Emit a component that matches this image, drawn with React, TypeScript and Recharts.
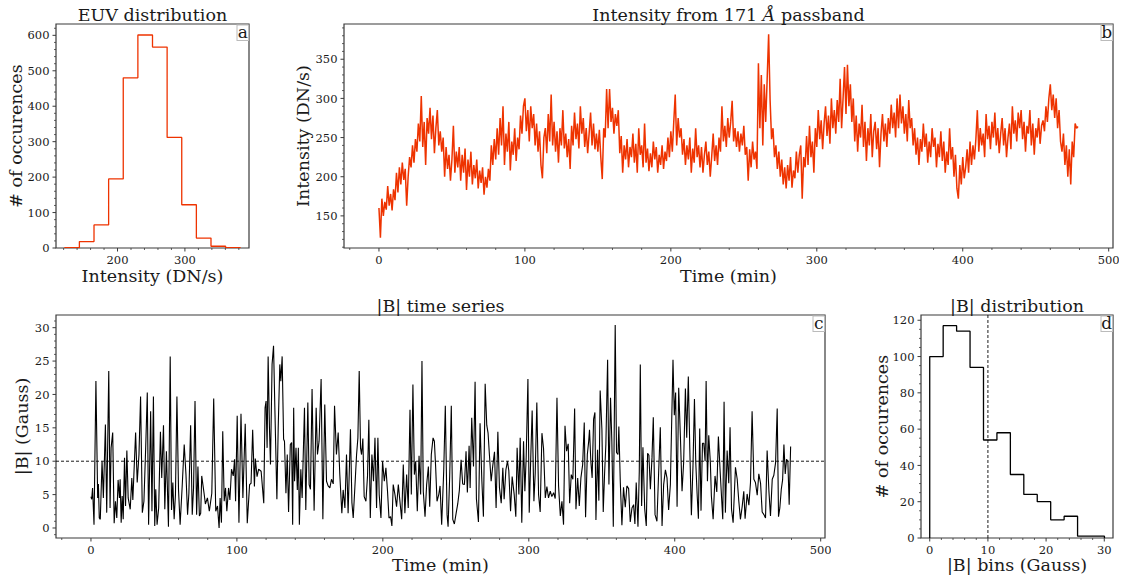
import React from 'react'
import { LineChart, Line, XAxis, YAxis, ReferenceArea, ReferenceLine } from 'recharts'

const FONT = '"DejaVu Serif", "Liberation Serif", serif'
const RED = '#ee3300'
const SPINE = '#3a3a3a'
const INK = '#1a1a1a'

// --- panel a: EUV histogram (bin edges + counts)
const euvEdges = [121.7, 143.4, 165.1, 186.8, 208.5, 230.2, 251.9, 273.6, 295.3, 317.0, 338.7, 360.4, 382.1]
const euvCounts = [1, 18, 65, 195, 480, 601, 567, 312, 122, 28, 5, 1]

// --- panel b: 171 A intensity, one value per minute (t = 0..479)
const euvIntensity = [
  160, 122, 172, 150, 168, 158, 188, 163, 178, 157, 184, 170, 205, 180, 212, 190, 218, 196, 210, 163,
  200, 225, 212, 240, 218, 248, 232, 268, 245, 303, 238, 270, 215, 275, 255, 288, 248, 278, 230, 262,
  285, 240, 258, 232, 250, 200, 238, 210, 228, 195, 222, 265, 205, 232, 212, 238, 195, 228, 205, 236,
  183, 222, 200, 232, 190, 215, 198, 222, 185, 208, 192, 212, 177, 200, 186, 210, 195, 240, 215, 248,
  222, 262, 228, 275, 240, 290, 215, 255, 232, 270, 208, 245, 228, 262, 220, 250, 235, 278, 255, 290,
  300, 258, 285, 245, 290, 262, 280, 240, 268, 232, 258, 215, 198, 250, 262, 230, 280, 245, 305, 240,
  270, 232, 258, 218, 262, 240, 285, 236, 255, 225, 248, 210, 265, 240, 282, 248, 268, 236, 290, 255,
  275, 238, 262, 230, 255, 282, 240, 268, 235, 255, 232, 260, 225, 197, 262, 250, 312, 262, 312, 270,
  288, 255, 280, 265, 285, 230, 252, 205, 240, 222, 248, 212, 238, 225, 255, 218, 242, 205, 262, 228,
  240, 212, 268, 218, 236, 207, 230, 212, 245, 222, 238, 205, 228, 215, 240, 210, 232, 220, 250, 225,
  258, 232, 270, 305, 240, 275, 250, 262, 228, 248, 215, 240, 222, 250, 205, 236, 218, 262, 225, 240,
  212, 238, 205, 228, 245, 215, 232, 200, 226, 255, 220, 240, 215, 250, 232, 290, 245, 265, 238, 275,
  250, 270, 297, 245, 262, 238, 258, 232, 255, 240, 265, 228, 238, 195, 235, 212, 245, 222, 232, 210,
  345, 262, 330, 240, 318, 270, 325, 382, 298, 248, 262, 225, 240, 210, 232, 200, 222, 190, 212, 185,
  215, 195, 225, 186, 208, 198, 232, 205, 228, 240, 172, 225, 212, 252, 215, 265, 225, 245, 205, 262,
  238, 285, 248, 272, 235, 268, 290, 252, 278, 242, 300, 262, 285, 255, 298, 270, 325, 262, 300, 340,
  280, 343, 290, 318, 270, 300, 245, 278, 232, 268, 250, 292, 238, 270, 220, 262, 240, 280, 225, 258,
  270, 235, 262, 212, 255, 280, 245, 268, 238, 275, 255, 292, 262, 282, 250, 300, 262, 305, 268, 290,
  255, 280, 245, 298, 262, 275, 240, 262, 228, 250, 215, 248, 232, 268, 238, 255, 218, 245, 225, 262,
  238, 250, 212, 242, 225, 258, 220, 245, 205, 232, 215, 262, 222, 238, 200, 228, 185, 172, 215, 190,
  225, 198, 212, 235, 205, 245, 215, 240, 222, 248, 285, 232, 262, 240, 255, 225, 280, 248, 265, 235,
  270, 250, 282, 240, 262, 230, 255, 275, 240, 262, 225, 250, 268, 235, 290, 255, 272, 245, 282, 262,
  285, 248, 270, 232, 265, 255, 285, 240, 268, 228, 262, 250, 275, 242, 265, 272, 258, 290, 270, 300,
  318, 285, 305, 275, 300, 262, 285, 245, 232, 255, 215, 240, 200, 235, 190, 245, 225, 268, 262, 264,
]

// --- panel c: |B| time series (time in min, field in Gauss)
const bTimes = [
  0.0, 0.5, 1.1, 2.1, 3.4, 4.6, 5.1, 5.7, 6.4, 7.6, 8.5, 9.9, 10.8, 12.2, 13.1, 13.8, 14.9, 15.9, 16.8, 17.7,
  18.6, 19.5, 20.0, 20.7, 21.4, 22.1, 23.0, 23.7, 24.6, 25.5, 26.9, 28.0, 28.7, 30.6, 31.7, 32.9, 34.0, 35.2, 36.3, 37.5,
  38.6, 39.5, 40.9, 41.8, 42.8, 43.7, 44.4, 45.3, 46.4, 47.6, 48.5, 49.7, 50.6, 51.7, 53.1, 54.3, 55.2, 56.1, 57.0, 57.9,
  58.9, 60.0, 61.1, 62.5, 63.9, 65.1, 66.2, 67.1, 68.3, 69.4, 70.3, 71.3, 72.4, 73.3, 74.3, 75.2, 75.9, 77.5, 78.4, 79.8,
  81.1, 82.8, 84.1, 85.5, 86.7, 87.8, 88.5, 89.4, 90.3, 91.3, 92.2, 93.1, 94.3, 95.2, 96.3, 97.5, 98.4, 99.1, 100.2, 101.4,
  102.8, 104.1, 105.7, 107.1, 108.7, 109.7, 110.8, 112.0, 112.6, 113.8, 114.9, 116.6, 118.4, 119.3, 120.0, 120.7, 121.4, 122.3, 123.0, 124.1,
  125.1, 126.0, 127.4, 128.3, 129.4, 130.1, 131.0, 132.0, 132.6, 133.6, 134.5, 135.4, 136.6, 137.5, 138.2, 138.9, 139.5, 140.5, 141.4, 142.1,
  142.8, 143.8, 144.7, 146.3, 147.2, 148.6, 149.5, 150.4, 151.5, 152.9, 154.3, 155.2, 156.3, 157.7, 158.9, 160.2, 161.4, 162.5, 163.7, 164.8,
  166.0, 166.9, 168.2, 169.4, 170.5, 171.9, 172.8, 174.0, 175.1, 176.2, 177.2, 177.8, 178.8, 179.7, 180.8, 182.0, 182.9, 183.8, 184.7, 185.4,
  186.3, 187.2, 188.4, 189.5, 190.4, 191.4, 192.5, 193.6, 194.6, 195.7, 196.6, 197.5, 198.7, 199.8, 201.0, 202.1, 203.2, 204.2, 205.3, 206.2,
  207.1, 208.3, 209.4, 210.6, 211.7, 212.9, 214.0, 215.1, 216.3, 217.4, 218.6, 219.5, 220.6, 221.6, 222.5, 223.6, 224.8, 225.9, 226.8, 227.7,
  228.9, 230.0, 231.2, 232.1, 233.2, 234.4, 235.3, 236.2, 237.1, 238.3, 239.2, 240.3, 241.7, 242.8, 244.0, 244.7, 245.8, 246.9, 247.9, 249.0,
  250.2, 251.3, 252.4, 253.6, 254.7, 255.9, 257.0, 257.9, 259.1, 259.8, 260.9, 262.1, 263.2, 264.1, 265.5, 266.6, 267.8, 268.9, 270.1, 271.2,
  272.1, 273.0, 274.2, 275.3, 276.5, 277.6, 278.8, 279.9, 281.1, 282.2, 283.1, 284.3, 285.4, 286.3, 287.5, 288.6, 290.0, 291.1, 292.0, 293.2,
  294.1, 295.2, 296.4, 297.3, 298.2, 299.4, 300.3, 301.4, 302.3, 303.5, 304.4, 305.5, 306.7, 307.8, 309.0, 310.1, 311.3, 312.4, 313.5, 314.7,
  315.8, 317.0, 318.1, 319.3, 320.4, 321.6, 322.7, 323.8, 324.8, 325.9, 327.0, 328.0, 329.1, 330.2, 331.4, 332.3, 333.5, 334.6, 335.7, 336.9,
  338.0, 338.9, 340.1, 341.0, 341.6, 342.5, 343.4, 344.4, 345.3, 346.0, 347.1, 348.0, 348.9, 350.1, 351.0, 351.9, 352.8, 354.0, 354.9, 356.0,
  356.9, 357.9, 359.2, 360.1, 361.1, 361.7, 362.7, 363.8, 364.9, 366.1, 367.2, 368.4, 369.5, 370.7, 371.8, 372.7, 373.6, 374.8, 375.7, 376.4,
  377.3, 378.2, 379.4, 380.5, 381.4, 382.3, 383.3, 384.4, 385.3, 386.5, 387.8, 389.0, 390.1, 391.3, 392.4, 393.6, 394.7, 395.8, 397.0, 398.8,
  399.7, 400.6, 401.6, 402.7, 403.9, 405.0, 406.1, 407.3, 408.2, 409.3, 410.3, 411.4, 412.5, 413.5, 414.4, 415.3, 416.2, 417.1, 418.0, 419.0,
  419.9, 420.8, 421.5, 422.4, 423.3, 424.4, 425.1, 426.3, 427.6, 428.8, 429.9, 431.1, 431.8, 432.9, 433.8, 434.7, 435.9, 437.0, 437.9, 438.9,
  440.0, 441.6, 442.8, 443.9, 445.0, 446.2, 447.3, 448.2, 449.6, 450.8, 451.9, 453.0, 454.2, 455.3, 456.5, 457.6, 458.8, 459.9, 461.1, 462.2,
  463.3, 464.5, 465.6, 466.8, 467.9, 469.1, 470.2, 471.1, 472.0, 473.0, 473.9, 474.8, 475.7, 476.6, 477.5, 478.4, 479.4,
]
const bValues = [
  4.7, 4.3, 6.0, 0.5, 22.0, 4.5, 6.6, 1.5, 1.3, 10.0, 4.5, 15.5, 2.3, 23.5, 3.0, 12.0, 14.3, 0.7, 4.0, 1.5,
  7.2, 4.5, 7.3, 0.8, 4.8, 1.3, 10.5, 3.3, 11.6, 4.5, 2.8, 7.5, 4.2, 14.3, 6.8, 11.0, 19.7, 2.3, 4.0, 12.0,
  20.3, 0.5, 17.5, 2.5, 19.7, 0.3, 5.8, 0.5, 3.0, 14.4, 7.5, 15.4, 2.8, 11.5, 0.2, 25.7, 2.7, 6.8, 1.3, 5.0,
  19.7, 5.7, 0.5, 6.2, 12.5, 8.0, 2.0, 5.2, 15.4, 2.0, 6.0, 19.0, 2.0, 9.2, 1.8, 2.2, 7.8, 5.2, 3.6, 4.5,
  2.5, 5.2, 19.4, 2.5, 3.3, 0.0, 4.5, 0.8, 14.5, 4.0, 6.0, 2.5, 6.0, 4.2, 8.8, 7.8, 10.3, 4.0, 16.8, 0.8,
  17.1, 4.5, 15.6, 0.7, 6.5, 6.7, 14.7, 6.2, 10.4, 7.7, 8.8, 8.5, 3.7, 18.0, 19.0, 12.0, 25.7, 15.0, 9.5, 24.5,
  27.3, 18.0, 4.3, 15.0, 24.5, 22.0, 25.7, 13.3, 13.0, 5.2, 11.0, 2.4, 12.5, 12.8, 0.5, 18.0, 7.0, 12.0, 5.7, 12.0,
  0.5, 8.8, 4.5, 18.0, 2.7, 18.8, 6.5, 5.8, 20.8, 2.6, 18.0, 11.0, 13.0, 22.3, 1.3, 18.5, 7.0, 6.3, 6.0, 7.3,
  6.6, 18.3, 11.0, 14.3, 8.0, 2.2, 5.7, 3.0, 11.0, 2.2, 10.0, 14.8, 3.8, 1.5, 6.0, 11.0, 13.5, 23.5, 12.0, 11.0,
  13.4, 4.7, 4.0, 7.8, 16.2, 1.5, 11.0, 7.0, 13.5, 3.0, 13.5, 5.0, 1.5, 10.0, 7.0, 9.0, 5.5, 1.5, 1.7, 0.3,
  6.5, 5.0, 3.2, 6.5, 4.0, 1.3, 9.5, 2.2, 8.0, 3.0, 17.7, 5.0, 21.5, 8.0, 10.0, 2.5, 10.8, 5.0, 25.0, 5.5,
  1.7, 6.5, 9.2, 3.2, 11.0, 13.5, 13.0, 9.0, 4.0, 5.0, 6.3, 0.5, 8.5, 18.3, 2.0, 0.2, 7.8, 18.3, 1.3, 0.6,
  2.2, 3.6, 5.6, 10.2, 6.6, 6.5, 11.5, 5.3, 12.3, 6.0, 16.5, 9.2, 21.9, 4.4, 0.9, 15.7, 7.3, 1.7, 21.6, 15.4,
  14.2, 11.0, 7.0, 9.3, 11.4, 3.0, 14.4, 6.0, 3.7, 9.0, 4.3, 8.7, 10.0, 8.6, 2.5, 7.7, 5.0, 1.7, 12.0, 5.0,
  13.5, 0.8, 13.0, 5.5, 10.5, 22.3, 2.3, 11.0, 17.6, 4.0, 8.2, 18.8, 5.0, 2.4, 14.2, 11.9, 4.5, 6.2, 4.5, 5.5,
  4.7, 5.3, 4.4, 19.5, 6.3, 1.8, 4.0, 0.5, 15.3, 11.5, 12.6, 3.7, 8.0, 7.3, 17.9, 2.8, 7.5, 3.3, 7.5, 9.5,
  15.8, 1.6, 11.0, 12.9, 14.7, 10.0, 7.5, 16.3, 17.3, 1.2, 11.7, 4.1, 20.6, 14.7, 2.4, 8.0, 12.5, 25.2, 6.5, 19.5,
  13.0, 0.2, 30.4, 11.3, 11.0, 15.2, 6.8, 0.4, 6.1, 3.1, 6.3, 5.9, 0.9, 3.0, 3.5, 0.6, 6.8, 0.2, 8.5, 24.5,
  3.3, 12.1, 2.9, 0.3, 11.2, 10.9, 5.8, 10.5, 16.6, 2.0, 1.0, 8.5, 15.1, 0.3, 6.5, 8.7, 7.5, 2.7, 6.5, 25.2,
  16.9, 20.3, 3.2, 21.0, 13.5, 5.5, 9.8, 20.9, 13.5, 22.7, 12.0, 1.9, 9.3, 19.3, 9.8, 5.2, 1.4, 14.9, 2.6, 12.7,
  12.7, 10.0, 22.0, 7.0, 13.9, 9.8, 4.8, 1.3, 7.8, 5.4, 13.7, 8.5, 5.7, 1.3, 18.9, 2.3, 11.6, 6.7, 15.1, 2.8,
  0.8, 9.1, 7.3, 4.0, 1.3, 3.2, 5.5, 1.4, 5.1, 3.4, 6.8, 17.5, 7.3, 6.8, 4.9, 8.1, 6.7, 2.4, 2.0, 1.5,
  11.6, 5.6, 1.8, 7.3, 7.9, 9.8, 17.9, 1.7, 3.0, 5.8, 7.2, 12.5, 8.1, 10.3, 10.0, 3.5, 12.2,
]

// --- panel d: |B| histogram
const bEdges = [0, 2.31, 4.62, 6.93, 9.24, 11.55, 13.86, 16.17, 18.48, 20.79, 23.1, 25.41, 27.72, 30.03]
const bCounts = [100, 117, 114, 94, 54, 58, 35, 24, 20, 10, 12, 1, 1]
const bThreshold = 10

// ticks
const range = (lo: number, hi: number, step: number) => {
  const out: number[] = []
  for (let v = lo; v <= hi + 1e-9; v += step) out.push(Math.round(v * 1000) / 1000)
  return out
}
const aXMajor = [200, 300]
const aYMajor = [0, 100, 200, 300, 400, 500, 600]
const timeMajor = [0, 100, 200, 300, 400, 500]
const bYMajor = [150, 200, 250, 300, 350]
const cYMajor = [0, 5, 10, 15, 20, 25, 30]
const dXMajor = [0, 10, 20, 30]
const dYMajor = [0, 20, 40, 60, 80, 100, 120]

const stepData = (edges: number[], counts: number[]) => [
  { x: edges[0], y: 0 },
  ...counts.map((c, i) => ({ x: edges[i], y: c })),
  { x: edges[edges.length - 1], y: 0 },
]

const PAD_L = 52
const PAD_B = 24
const PAD_T = 6
const PAD_R = 6

function XTick({ x, y, payload, majors }: any) {
  const major = majors.includes(payload.value)
  return (
    <g>
      <line x1={x} x2={x} y1={y} y2={y + (major ? 3.5 : 2)} stroke={SPINE} strokeWidth={major ? 1 : 0.8} />
      {major && (
        <text x={x} y={y + 16} textAnchor="middle" fontSize={11.5} fontFamily={FONT} fill={INK}>
          {payload.value}
        </text>
      )}
    </g>
  )
}

function YTick({ x, y, payload, majors }: any) {
  const major = majors.includes(payload.value)
  return (
    <g>
      <line x1={x - (major ? 3.5 : 2)} x2={x} y1={y} y2={y} stroke={SPINE} strokeWidth={major ? 1 : 0.8} />
      {major && (
        <text x={x - 6.5} y={y} dy="0.36em" textAnchor="end" fontSize={11.5} fontFamily={FONT} fill={INK}>
          {payload.value}
        </text>
      )}
    </g>
  )
}

interface PanelProps {
  left: number
  top: number
  width: number
  height: number
  xDomain: [number, number]
  yDomain: [number, number]
  xMajor: number[]
  xMinorStep: number
  yMajor: number[]
  yMinorStep: number
  data: { x: number; y: number }[]
  color: string
  stepped?: boolean
  lineWidth?: number
  extra?: React.ReactNode
}

function Panel(p: PanelProps) {
  const xs = range(Math.ceil(p.xDomain[0] / p.xMinorStep) * p.xMinorStep, p.xDomain[1], p.xMinorStep)
  const ys = range(Math.ceil(p.yDomain[0] / p.yMinorStep) * p.yMinorStep, p.yDomain[1], p.yMinorStep)
  return (
    <div style={{ position: 'absolute', left: p.left - PAD_L, top: p.top - PAD_T }}>
      <LineChart
        width={p.width + PAD_L + PAD_R}
        height={p.height + PAD_T + PAD_B}
        data={p.data}
        margin={{ top: PAD_T, right: PAD_R, bottom: 0, left: 0 }}
      >
        <XAxis
          type="number"
          dataKey="x"
          domain={p.xDomain}
          allowDataOverflow
          ticks={xs}
          interval={0}
          height={PAD_B}
          axisLine={false}
          tickLine={false}
          tickSize={0}
          tickMargin={0}
          tick={(props: any) => <XTick {...props} majors={p.xMajor} />}
        />
        <YAxis
          type="number"
          domain={p.yDomain}
          allowDataOverflow
          ticks={ys}
          interval={0}
          width={PAD_L}
          axisLine={false}
          tickLine={false}
          tickSize={0}
          tickMargin={0}
          tick={(props: any) => <YTick {...props} majors={p.yMajor} />}
        />
        {p.extra}
        <Line
          type={p.stepped ? 'stepAfter' : 'linear'}
          dataKey="y"
          stroke={p.color}
          strokeWidth={p.lineWidth ?? 1}
          strokeLinejoin="bevel"
          dot={false}
          isAnimationActive={false}
        />
        <ReferenceArea
          x1={p.xDomain[0]}
          x2={p.xDomain[1]}
          y1={p.yDomain[0]}
          y2={p.yDomain[1]}
          fill="none"
          fillOpacity={0}
          stroke={SPINE}
          strokeWidth={1.2}
          ifOverflow="visible"
        />
      </LineChart>
    </div>
  )
}

const A = { left: 56, top: 24, w: 193, h: 224 }
const B = { left: 344, top: 24, w: 769, h: 224 }
const C = { left: 56, top: 315, w: 769, h: 223 }
const D = { left: 921, top: 315, w: 192, h: 223 }

function Letter({ r, ch }: { r: { left: number; top: number; w: number }; ch: string }) {
  const x = r.left + r.w - 12
  return (
    <g>
      <rect x={x} y={r.top + 1} width={11.5} height={15.5} fill="#fff" stroke="#bbb" strokeWidth={1} />
      <text x={x + 5.75} y={r.top + 14} textAnchor="middle" fontSize={17} fontFamily={FONT} fill={INK}>
        {ch}
      </text>
    </g>
  )
}

function Label({ x, y, children, rotate }: { x: number; y: number; children: React.ReactNode; rotate?: boolean }) {
  return (
    <text
      x={x}
      y={y}
      textAnchor="middle"
      fontSize={17.5}
      fontFamily={FONT}
      fill={INK}
      transform={rotate ? `rotate(-90 ${x} ${y})` : undefined}
    >
      {children}
    </text>
  )
}

export default function App() {
  const euvData = stepData(euvEdges, euvCounts)
  const intensityData = euvIntensity.map((v, i) => ({ x: i, y: v }))
  const bData = bTimes.map((t, i) => ({ x: t, y: bValues[i] }))
  const bHistData = stepData(bEdges, bCounts)

  return (
    <div style={{ position: 'absolute', left: 0, top: 0, width: 1125, height: 584, background: '#fff', overflow: 'hidden' }}>
      <Panel
        left={A.left} top={A.top} width={A.w} height={A.h}
        xDomain={[108.7, 395.1]} yDomain={[0, 632]}
        xMajor={aXMajor} xMinorStep={20} yMajor={aYMajor} yMinorStep={20}
        data={euvData} color={RED} stepped lineWidth={1.3}
      />
      <Panel
        left={B.left} top={B.top} width={B.w} height={B.h}
        xDomain={[-23.95, 502.95]} yDomain={[109, 395]}
        xMajor={timeMajor} xMinorStep={20} yMajor={bYMajor} yMinorStep={10}
        data={intensityData} color={RED} lineWidth={1.5}
      />
      <Panel
        left={C.left} top={C.top} width={C.w} height={C.h}
        xDomain={[-23.95, 502.95]} yDomain={[-1.5, 31.9]}
        xMajor={timeMajor} xMinorStep={20} yMajor={cYMajor} yMinorStep={1}
        data={bData} color="#000" lineWidth={1.1}
        extra={<ReferenceLine y={bThreshold} stroke="#000" strokeWidth={0.9} strokeDasharray="3 2" />}
      />
      <Panel
        left={D.left} top={D.top} width={D.w} height={D.h}
        xDomain={[-1.5, 31.5]} yDomain={[0, 122.9]}
        xMajor={dXMajor} xMinorStep={2} yMajor={dYMajor} yMinorStep={5}
        data={bHistData} color="#000" stepped lineWidth={1.3}
        extra={<ReferenceLine x={bThreshold} stroke="#000" strokeWidth={0.9} strokeDasharray="3 2" />}
      />
      <svg width={1125} height={584} style={{ position: 'absolute', left: 0, top: 0, pointerEvents: 'none' }}>
        <Label x={A.left + A.w / 2} y={20.5}>EUV distribution</Label>
        <Label x={A.left + A.w / 2} y={281.5}>Intensity (DN/s)</Label>
        <Label x={22} y={A.top + A.h / 2} rotate># of occurences</Label>
        <Label x={B.left + B.w / 2} y={20.5}>
          Intensity from 171 <tspan fontStyle="italic">Å</tspan> passband
        </Label>
        <Label x={B.left + B.w / 2} y={281.5}>Time (min)</Label>
        <Label x={309} y={B.top + B.h / 2} rotate>Intensity (DN/s)</Label>
        <Label x={C.left + C.w / 2} y={311.5}>|B| time series</Label>
        <Label x={C.left + C.w / 2} y={571}>Time (min)</Label>
        <Label x={28} y={C.top + C.h / 2} rotate>|B| (Gauss)</Label>
        <Label x={D.left + D.w / 2} y={311.5}>|B| distribution</Label>
        <Label x={D.left + D.w / 2} y={571}>|B| bins (Gauss)</Label>
        <Label x={888} y={D.top + D.h / 2} rotate># of occurences</Label>
        <Letter r={A} ch="a" />
        <Letter r={B} ch="b" />
        <Letter r={C} ch="c" />
        <Letter r={D} ch="d" />
      </svg>
    </div>
  )
}
